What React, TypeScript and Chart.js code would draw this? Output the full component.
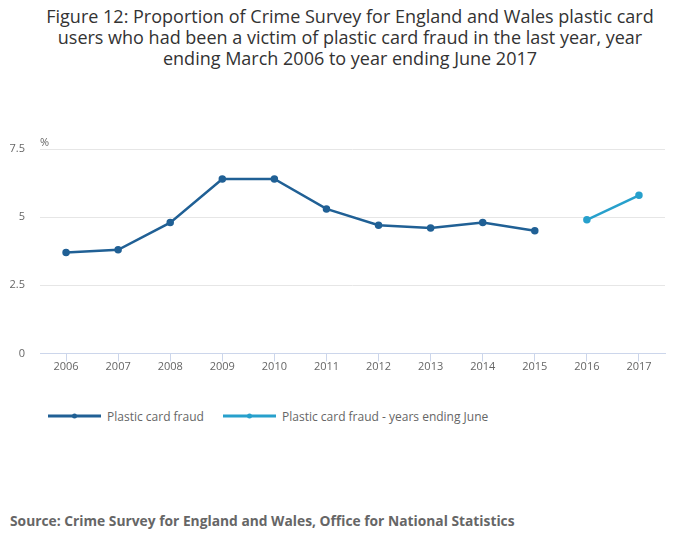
import { useEffect, useRef } from 'react'
import { Chart, registerables } from 'chart.js'

Chart.register(...registerables)

const years = ['2006', '2007', '2008', '2009', '2010', '2011', '2012', '2013', '2014', '2015', '2016', '2017']
// years ending March
const fraudMarch = [3.7, 3.8, 4.8, 6.4, 6.4, 5.3, 4.7, 4.6, 4.8, 4.5, null, null]
// years ending June
const fraudJune = [null, null, null, null, null, null, null, null, null, null, 4.9, 5.8]
const yTicks = [0, 2.5, 5, 7.5]

const DARK = '#206095'
const LIGHT = '#27a0cc'
const FONT = '"Open Sans", sans-serif'

const percentLabel = {
  id: 'percentLabel',
  afterDraw(chart: Chart) {
    const { ctx, chartArea } = chart
    ctx.save()
    ctx.font = `11px ${FONT}`
    ctx.fillStyle = '#666'
    ctx.textBaseline = 'bottom'
    ctx.fillText('%', chartArea.left, chartArea.top - 1)
    ctx.restore()
  },
}

export default function App() {
  const ref = useRef<HTMLCanvasElement>(null)

  useEffect(() => {
    if (!ref.current) return
    const chart = new Chart(ref.current, {
      type: 'line',
      data: {
        labels: years,
        datasets: [
          {
            label: 'Plastic card fraud',
            data: fraudMarch,
            borderColor: DARK,
            backgroundColor: DARK,
            borderWidth: 2.5,
            pointRadius: 2.5,
            pointBackgroundColor: DARK,
            spanGaps: false,
          },
          {
            label: 'Plastic card fraud - years ending June',
            data: fraudJune,
            borderColor: LIGHT,
            backgroundColor: LIGHT,
            borderWidth: 2.5,
            pointRadius: 2.5,
            pointBackgroundColor: LIGHT,
            spanGaps: false,
          },
        ],
      },
      options: {
        animation: false,
        responsive: false,
        maintainAspectRatio: false,
        layout: { padding: { left: 0, right: 35, top: 27, bottom: 0 } },
        plugins: {
          legend: { display: false },
          tooltip: { enabled: false },
        },
        scales: {
          x: {
            offset: true,
            border: { color: '#ccd6eb' },
            grid: { drawOnChartArea: false, drawTicks: true, tickLength: 8, color: '#ccd6eb', offset: false },
            ticks: { color: '#666', font: { family: 'Open Sans', size: 11 }, padding: -1, maxRotation: 0 },
          },
          y: {
            min: 0,
            max: 7.5,
            afterBuildTicks: (scale) => {
              scale.ticks = yTicks.map((v) => ({ value: v }))
            },
            afterFit: (scale) => {
              scale.width = 40
            },
            border: { display: false },
            grid: { color: '#e6e6e6', drawTicks: false },
            ticks: {
              color: '#666',
              font: { family: 'Open Sans', size: 11 },
              padding: 15,
              callback: (v) => String(v),
            },
          },
        },
      },
      plugins: [percentLabel],
    })
    return () => chart.destroy()
  }, [])

  const legendItem = (color: string, text: string, left: number) => (
    <div style={{ position: 'absolute', left, top: 407, display: 'flex', alignItems: 'center', height: 18 }}>
      <svg width="53" height="8" style={{ marginRight: 6 }}>
        <line x1="0" y1="4" x2="53" y2="4" stroke={color} strokeWidth="3" />
        <circle cx="26.5" cy="4" r="2.5" fill={color} />
      </svg>
      <span style={{ fontSize: 12, color: '#666', whiteSpace: 'nowrap' }}>{text}</span>
    </div>
  )

  return (
    <div
      style={{
        position: 'absolute',
        left: 0,
        top: 0,
        width: 700,
        height: 549,
        background: '#fff',
        fontFamily: FONT,
        overflow: 'hidden',
      }}
    >
      <div
        style={{
          position: 'absolute',
          left: 0,
          top: 6,
          width: 700,
          textAlign: 'center',
          fontSize: 18,
          lineHeight: '21px',
          color: '#333',
        }}
      >
        Figure 12: Proportion of Crime Survey for England and Wales plastic card
        <br />
        users who had been a victim of plastic card fraud in the last year, year
        <br />
        ending March 2006 to year ending June 2017
      </div>
      <canvas ref={ref} width={700} height={253} style={{ position: 'absolute', left: 0, top: 122 }} />
      {legendItem(DARK, 'Plastic card fraud', 48)}
      {legendItem(LIGHT, 'Plastic card fraud - years ending June', 223)}
      <div
        style={{
          position: 'absolute',
          left: 10,
          top: 511,
          fontSize: 13.8,
          fontWeight: 'bold',
          color: '#666',
          whiteSpace: 'nowrap',
        }}
      >
        Source: Crime Survey for England and Wales, Office for National Statistics
      </div>
    </div>
  )
}
